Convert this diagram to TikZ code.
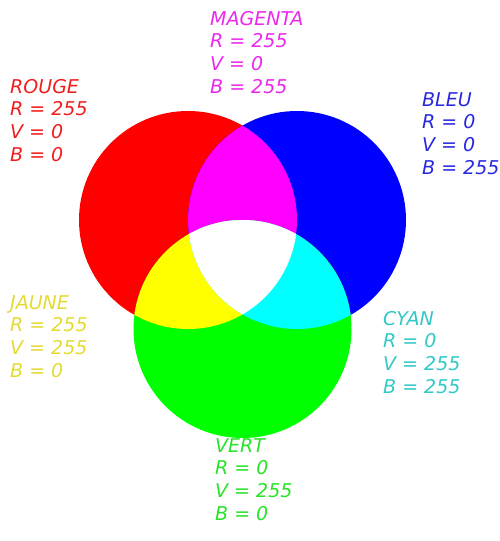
\documentclass[tikz,border=0pt]{standalone}
\usepackage{fontspec}
\setmainfont{DejaVu Sans}
\definecolor{pred}{RGB}{255,0,0}
\definecolor{pgreen}{RGB}{0,255,0}
\definecolor{pblue}{RGB}{0,0,255}
\definecolor{pmag}{RGB}{255,0,255}
\definecolor{pyel}{RGB}{255,255,0}
\definecolor{pcyan}{RGB}{0,255,255}
\definecolor{txtred}{RGB}{240,30,30}
\definecolor{txtmag}{RGB}{235,40,235}
\definecolor{txtblue}{RGB}{40,40,225}
\definecolor{txtyel}{RGB}{228,218,50}
\definecolor{txtcyan}{RGB}{50,200,200}
\definecolor{txtgreen}{RGB}{40,228,40}
\tikzset{lbl/.style={anchor=base west,inner sep=0pt,font=\fontsize{19}{22.7}\selectfont\itshape}}
\newcommand\colorlabel[8]{%
  \node[lbl,text=#4] (#1-1) at (#2,#3) {#5};
  \node[lbl,text=#4] (#1-2) at (#2,#3+22.7) {#6};
  \node[lbl,text=#4] (#1-3) at (#2,#3+45.4) {#7};
  \node[lbl,text=#4] (#1-4) at (#2,#3+68.1) {#8};
}
\begin{document}
\begin{tikzpicture}[x=1pt,y=-1pt]
\useasboundingbox (0,0) rectangle (499,541);
\coordinate (cr) at (188,220);
\coordinate (cb) at (297,220);
\coordinate (cg) at (242.5,329);
\def\R{109}
\fill[pred] (cr) circle[radius=\R];
\fill[pblue] (cb) circle[radius=\R];
\fill[pgreen] (cg) circle[radius=\R];
\begin{scope}
  \clip (cr) circle[radius=\R];
  \fill[pmag] (cb) circle[radius=\R];
  \fill[pyel] (cg) circle[radius=\R];
\end{scope}
\begin{scope}
  \clip (cb) circle[radius=\R];
  \fill[pcyan] (cg) circle[radius=\R];
\end{scope}
\begin{scope}
  \clip (cr) circle[radius=\R];
  \clip (cb) circle[radius=\R];
  \fill[white] (cg) circle[radius=\R];
\end{scope}
\colorlabel{magenta}{210}{25}{txtmag}{MAGENTA}{R = 255}{V = 0}{B = 255}
\colorlabel{rouge}{10}{93}{txtred}{ROUGE}{R = 255}{V = 0}{B = 0}
\colorlabel{bleu}{422}{106}{txtblue}{BLEU}{R = 0}{V = 0}{B = 255}
\colorlabel{jaune}{10}{309}{txtyel}{JAUNE}{R = 255}{V = 255}{B = 0}
\colorlabel{cyan}{383}{325}{txtcyan}{CYAN}{R = 0}{V = 255}{B = 255}
\colorlabel{vert}{215}{452}{txtgreen}{VERT}{R = 0}{V = 255}{B = 0}
\end{tikzpicture}
\end{document}
